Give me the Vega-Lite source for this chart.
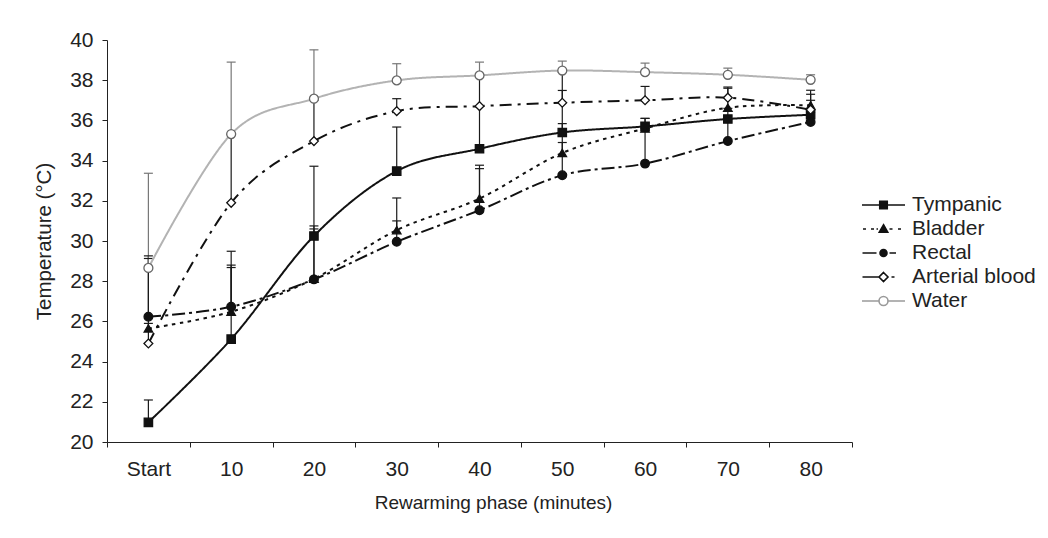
{
  "$schema": "https://vega.github.io/schema/vega-lite/v6.json",
  "width": 745,
  "height": 402,
  "autosize": {"type": "none"},
  "padding": {"left": 107, "top": 40, "right": 196, "bottom": 96},
  "background": "white",
  "config": {
    "view": {"stroke": null},
    "font": "Liberation Sans",
    "axis": {
      "grid": false,
      "domainColor": "#222222",
      "domainWidth": 1,
      "tickColor": "#222222",
      "tickSize": 5,
      "tickWidth": 1,
      "labelFont": "Liberation Sans",
      "labelFontSize": 21,
      "labelColor": "#222222",
      "titleFont": "Liberation Sans",
      "titleFontSize": 19,
      "titleFontWeight": "normal",
      "titleColor": "#222222"
    },
    "legend": {"labelFont": "Liberation Sans", "labelColor": "#222222"}
  },
  "data": {
    "values": [
      {"series": "Tympanic", "t": 0, "temp": 20.98, "upper": 22.09},
      {"series": "Tympanic", "t": 10, "temp": 25.12, "upper": 28.8},
      {"series": "Tympanic", "t": 20, "temp": 30.25, "upper": 33.72},
      {"series": "Tympanic", "t": 30, "temp": 33.48, "upper": 35.67},
      {"series": "Tympanic", "t": 40, "temp": 34.59, "upper": 36.7},
      {"series": "Tympanic", "t": 50, "temp": 35.4, "upper": 37.49},
      {"series": "Tympanic", "t": 60, "temp": 35.7, "upper": 36.1},
      {"series": "Tympanic", "t": 70, "temp": 36.07, "upper": 36.6},
      {"series": "Tympanic", "t": 80, "temp": 36.28, "upper": 37.0},
      {"series": "Bladder", "t": 0, "temp": 25.65, "upper": 29.13},
      {"series": "Bladder", "t": 10, "temp": 26.48, "upper": 28.68},
      {"series": "Bladder", "t": 20, "temp": 28.12, "upper": 30.6},
      {"series": "Bladder", "t": 30, "temp": 30.54, "upper": 32.14},
      {"series": "Bladder", "t": 40, "temp": 32.11, "upper": 33.77},
      {"series": "Bladder", "t": 50, "temp": 34.38, "upper": 35.84},
      {"series": "Bladder", "t": 60, "temp": 35.6, "upper": 36.1},
      {"series": "Bladder", "t": 70, "temp": 36.63, "upper": 37.6},
      {"series": "Bladder", "t": 80, "temp": 36.75, "upper": 37.3},
      {"series": "Rectal", "t": 0, "temp": 26.23, "upper": 29.26},
      {"series": "Rectal", "t": 10, "temp": 26.73, "upper": 29.49},
      {"series": "Rectal", "t": 20, "temp": 28.09, "upper": 30.75},
      {"series": "Rectal", "t": 30, "temp": 29.96, "upper": 31.0},
      {"series": "Rectal", "t": 40, "temp": 31.53, "upper": 33.6},
      {"series": "Rectal", "t": 50, "temp": 33.27, "upper": 34.9},
      {"series": "Rectal", "t": 60, "temp": 33.85, "upper": 35.6},
      {"series": "Rectal", "t": 70, "temp": 34.97, "upper": 36.1},
      {"series": "Rectal", "t": 80, "temp": 35.92, "upper": 36.4},
      {"series": "Arterial blood", "t": 0, "temp": 24.9, "upper": 25.9},
      {"series": "Arterial blood", "t": 10, "temp": 31.9, "upper": 35.3},
      {"series": "Arterial blood", "t": 20, "temp": 34.97, "upper": 37.0},
      {"series": "Arterial blood", "t": 30, "temp": 36.46, "upper": 37.08},
      {"series": "Arterial blood", "t": 40, "temp": 36.71, "upper": 38.2},
      {"series": "Arterial blood", "t": 50, "temp": 36.88, "upper": 38.4},
      {"series": "Arterial blood", "t": 60, "temp": 37.0, "upper": 37.69},
      {"series": "Arterial blood", "t": 70, "temp": 37.13, "upper": 37.66},
      {"series": "Arterial blood", "t": 80, "temp": 36.53, "upper": 37.5},
      {"series": "Water", "t": 0, "temp": 28.66, "upper": 33.37},
      {"series": "Water", "t": 10, "temp": 35.32, "upper": 38.9},
      {"series": "Water", "t": 20, "temp": 37.08, "upper": 39.51},
      {"series": "Water", "t": 30, "temp": 37.99, "upper": 38.82},
      {"series": "Water", "t": 40, "temp": 38.24, "upper": 38.9},
      {"series": "Water", "t": 50, "temp": 38.48, "upper": 38.95},
      {"series": "Water", "t": 60, "temp": 38.4, "upper": 38.85},
      {"series": "Water", "t": 70, "temp": 38.27, "upper": 38.6},
      {"series": "Water", "t": 80, "temp": 38.02, "upper": 38.27}
    ]
  },
  "encoding": {
    "x": {
      "field": "t",
      "type": "quantitative",
      "scale": {"domain": [-5, 85], "nice": false, "zero": false},
      "axis": {
        "values": [-5, 5, 15, 25, 35, 45, 55, 65, 75, 85],
        "labelExpr": "datum.value < 0 ? 'Start' : datum.value > 80 ? '' : format(datum.value + 5, 'd')",
        "labelOffset": 41.4,
        "labelOverlap": false,
        "labelFlush": false,
        "labelBound": false,
        "labelPadding": 11,
        "title": "Rewarming phase (minutes)",
        "titlePadding": 14,
        "titleX": 386
      }
    },
    "y": {
      "field": "temp",
      "type": "quantitative",
      "scale": {"domain": [20, 40], "nice": false, "zero": false},
      "axis": {
        "values": [20, 22, 24, 26, 28, 30, 32, 34, 36, 38, 40],
        "labelPadding": 9,
        "title": "Temperature (°C)",
        "titleFontSize": 20.5,
        "titlePadding": 15
      }
    }
  },
  "layer": [
    {
      "mark": {"type": "rule", "strokeWidth": 1.2},
      "encoding": {
        "y2": {"field": "upper"},
        "stroke": {
          "field": "series",
          "type": "nominal",
          "scale": {"domain": ["Tympanic", "Bladder", "Rectal", "Arterial blood", "Water"], "range": ["#1a1a1a", "#1a1a1a", "#1a1a1a", "#1a1a1a", "#777777"]},
          "legend": null
        }
      }
    },
    {
      "mark": {"type": "tick", "orient": "horizontal", "size": 9, "thickness": 1.2, "opacity": 1},
      "encoding": {
        "y": {"field": "upper", "type": "quantitative"},
        "color": {
          "field": "series",
          "type": "nominal",
          "scale": {"domain": ["Tympanic", "Bladder", "Rectal", "Arterial blood", "Water"], "range": ["#1a1a1a", "#1a1a1a", "#1a1a1a", "#1a1a1a", "#777777"]},
          "legend": null
        }
      }
    },
    {
      "mark": {"type": "line", "interpolate": "cardinal", "tension": 0},
      "encoding": {
        "stroke": {
          "field": "series",
          "type": "nominal",
          "scale": {"domain": ["Tympanic", "Bladder", "Rectal", "Arterial blood", "Water"], "range": ["#111111", "#111111", "#111111", "#111111", "#b3b3b3"]},
          "legend": null
        },
        "strokeDash": {
          "field": "series",
          "type": "nominal",
          "scale": {"domain": ["Tympanic", "Bladder", "Rectal", "Arterial blood", "Water"], "range": [[1, 0], [3.5, 4.5], [13, 4, 3, 4], [12, 6, 3, 6], [1, 0]]},
          "legend": null
        },
        "strokeWidth": {
          "field": "series",
          "type": "nominal",
          "scale": {"domain": ["Tympanic", "Bladder", "Rectal", "Arterial blood", "Water"], "range": [2, 2, 2, 2, 1.5]},
          "legend": null
        }
      }
    },
    {
      "mark": {"type": "point", "filled": true, "opacity": 1, "strokeWidth": 1.3},
      "encoding": {
        "shape": {
          "field": "series",
          "type": "nominal",
          "scale": {"domain": ["Tympanic", "Bladder", "Rectal", "Arterial blood", "Water"], "range": ["square", "triangle-up", "circle", "diamond", "circle"]},
          "legend": null
        },
        "fill": {
          "field": "series",
          "type": "nominal",
          "scale": {"domain": ["Tympanic", "Bladder", "Rectal", "Arterial blood", "Water"], "range": ["#111111", "#111111", "#111111", "white", "white"]},
          "legend": null
        },
        "stroke": {
          "field": "series",
          "type": "nominal",
          "scale": {"domain": ["Tympanic", "Bladder", "Rectal", "Arterial blood", "Water"], "range": ["#111111", "#111111", "#111111", "#111111", "#666666"]},
          "legend": null
        },
        "size": {
          "field": "series",
          "type": "nominal",
          "scale": {"domain": ["Tympanic", "Bladder", "Rectal", "Arterial blood", "Water"], "range": [70, 80, 60, 90, 110]},
          "legend": null
        }
      }
    },
    {
      "mark": {"type": "point", "filled": true, "size": 0, "strokeWidth": 1.6, "opacity": 1},
      "encoding": {
        "shape": {
          "field": "series",
          "type": "nominal",
          "scale": {
            "domain": ["Tympanic", "Bladder", "Rectal", "Arterial blood", "Water"],
            "range": [
              "M-4.3,0H4.3M-0.75,-0.75H0.75V0.75H-0.75Z",
              "M-4.1,0H-3.5M-2.5,0H-1.9M-1.4,0H-1.1M0,-0.85L0.85,0.65H-0.85ZM1.2,0H1.8M2.9,0H3.5",
              "M-4.2,0H-1.4M1.2,0H2.5M0.7,0A0.7,0.7 0 1,1 -0.7,0A0.7,0.7 0 1,1 0.7,0Z",
              "M-4.2,0H-1M1.6,0H2.2M0,-0.9L0.9,0L0,0.9L-0.9,0Z",
              "M-4.3,0H-0.9M0.9,0H4.3M0.9,0A0.9,0.9 0 1,1 -0.9,0A0.9,0.9 0 1,1 0.9,0Z"
            ]
          },
          "legend": {
            "title": null,
            "orient": "none",
            "legendX": 766,
            "legendY": 154.5,
            "padding": 0,
            "rowPadding": 2,
            "labelFontSize": 21,
            "labelOffset": 18,
            "symbolSize": 100,
            "symbolOpacity": 1,
            "symbolStrokeWidth": 1.6
          }
        },
        "fill": {
          "field": "series",
          "type": "nominal",
          "scale": {"domain": ["Tympanic", "Bladder", "Rectal", "Arterial blood", "Water"], "range": ["#111111", "#111111", "#111111", "white", "white"]}
        },
        "stroke": {
          "field": "series",
          "type": "nominal",
          "scale": {"domain": ["Tympanic", "Bladder", "Rectal", "Arterial blood", "Water"], "range": ["#111111", "#111111", "#111111", "#111111", "#9a9a9a"]}
        }
      }
    }
  ],
  "resolve": {
    "scale": {"stroke": "independent", "fill": "independent", "color": "independent", "strokeWidth": "independent", "size": "independent", "shape": "independent"}
  }
}
